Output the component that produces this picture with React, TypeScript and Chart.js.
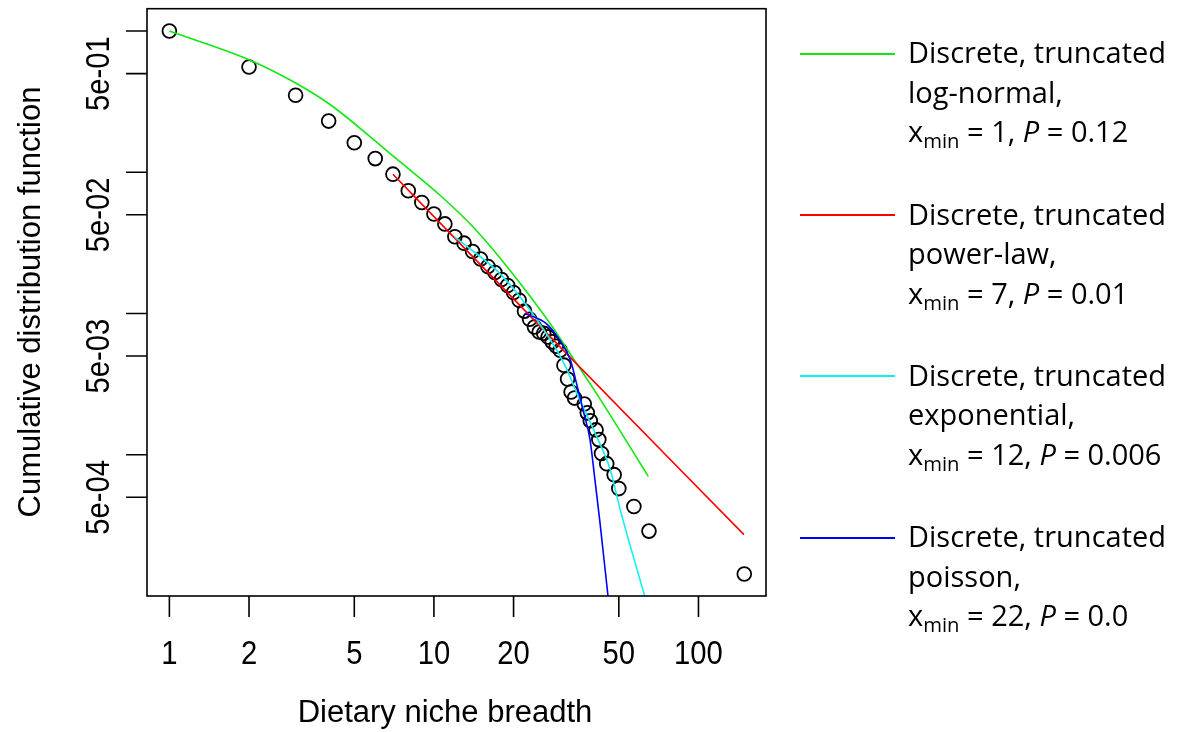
import React, { useEffect, useRef } from 'react';
import { Chart, registerables } from 'chart.js';

Chart.register(...registerables);

// Observed complementary CDF of dietary niche breadth
const breadthX = [1, 2, 3, 4, 5, 6, 7, 8, 9, 10, 11, 12, 13, 14, 15, 16, 17, 18, 19, 20, 21, 22, 23, 24, 25, 26, 27, 28, 29, 30, 31, 32, 33, 34, 37, 38, 39, 41, 42, 43, 45, 48, 50, 57, 65, 149];
const cdfY = [1.0, 0.556, 0.351, 0.2305, 0.162, 0.125, 0.097, 0.074, 0.0611, 0.0507, 0.0431, 0.035, 0.0315, 0.0275, 0.0243, 0.0215, 0.0195, 0.0174, 0.0158, 0.0141, 0.0124, 0.0104, 0.0091, 0.00803, 0.0074, 0.00725, 0.00683, 0.0063, 0.00587, 0.0055, 0.00431, 0.00344, 0.00278, 0.00252, 0.00229, 0.00198, 0.00174, 0.0015, 0.00128, 0.00102, 0.000865, 0.000723, 0.000576, 0.00043, 0.000288, 0.000143];

// Fitted curves
const lognormX = [1, 2, 3, 4.05, 5.9, 7, 10.6, 14.5, 19.4, 27.5, 31.7, 42.3, 64.6];
const lognormY = [1.0, 0.627, 0.429, 0.302, 0.171, 0.1305, 0.0682, 0.0386, 0.0202, 0.0085, 0.00568, 0.00251, 0.000703];
const powerX = [7, 30.8, 148.6];
const powerY = [0.0969, 0.00551, 0.000272];
const expoX = [12, 17.8, 23.1, 30.9, 35.6, 41.2, 46.4, 50.6, 62.6];
const expoY = [0.0347, 0.0191, 0.01054, 0.0045, 0.00244, 0.00135, 0.000783, 0.000409, 0.0001];
const poisX = [22.1, 26.6, 29.9, 32.8, 34.6, 36.6, 38.9, 40.6, 42.3, 45.5];
const poisY = [0.01, 0.00849, 0.00647, 0.00468, 0.0032, 0.00208, 0.00128, 0.000667, 0.000349, 0.0001];

const xTicks = [1, 2, 5, 10, 20, 50, 100];
const xTickLabels = ['1', '2', '5', '10', '20', '50', '100'];
const yTicks = [1, 0.5, 0.1, 0.05, 0.01, 0.005, 0.001, 0.0005];
const yTickLabels = ['', '5e-01', '', '5e-02', '', '5e-03', '', '5e-04'];

const xTitle = 'Dietary niche breadth';
const yTitle = 'Cumulative distribution function';

const fitNames = ['log-normal', 'power-law', 'exponential', 'poisson'];
const fitXmin = ['1', '7', '12', '22'];
const fitP = ['0.12', '0.01', '0.006', '0.0'];
const fitColors = ['#10e810', '#ff0000', '#10f0f0', '#0000ff'];

const W = 1178;
const H = 732;
const TICK_FONT = '34px "Liberation Sans", Arial, sans-serif';
const TITLE_FONT = '31px "Liberation Sans", Arial, sans-serif';

const pairs = (xs: number[], ys: number[]) => xs.map((x, i) => ({ x, y: ys[i] }));

function narrowText(ctx: CanvasRenderingContext2D, text: string, x: number, y: number, rot: number, sx: number) {
  ctx.save();
  ctx.translate(x, y);
  ctx.rotate(rot);
  ctx.scale(sx, 1);
  ctx.fillText(text, 0, 0);
  ctx.restore();
}

const rAxesPlugin = {
  id: 'rAxes',
  afterDraw(chart: any) {
    const { ctx, chartArea: a } = chart;
    const xs = chart.scales.x;
    const ys = chart.scales.y;
    ctx.save();
    ctx.strokeStyle = '#000';
    ctx.fillStyle = '#000';
    ctx.lineWidth = 1.6;
    ctx.strokeRect(a.left, a.top, a.right - a.left, a.bottom - a.top);
    ctx.beginPath();
    xTicks.forEach((v) => {
      const p = xs.getPixelForValue(v);
      ctx.moveTo(p, a.bottom);
      ctx.lineTo(p, a.bottom + 21);
    });
    yTicks.forEach((v) => {
      const p = ys.getPixelForValue(v);
      ctx.moveTo(a.left, p);
      ctx.lineTo(a.left - 21, p);
    });
    ctx.stroke();

    ctx.font = TICK_FONT;
    ctx.textAlign = 'center';
    ctx.textBaseline = 'middle';
    xTicks.forEach((v, i) => {
      narrowText(ctx, xTickLabels[i], xs.getPixelForValue(v), a.bottom + 59, 0, 0.86);
    });
    yTicks.forEach((v, i) => {
      if (!yTickLabels[i]) return;
      narrowText(ctx, yTickLabels[i], a.left - 47, ys.getPixelForValue(v), -Math.PI / 2, 0.86);
    });

    ctx.font = TITLE_FONT;
    ctx.fillText(xTitle, 445, 713);
    narrowText(ctx, yTitle, 31, 302, -Math.PI / 2, 1);
    ctx.restore();
  },
};

function App() {
  const canvasRef = useRef<HTMLCanvasElement | null>(null);

  useEffect(() => {
    const canvas = canvasRef.current;
    if (!canvas) return;
    const lineDs = (label: string, xs: number[], ys: number[], color: string, order: number) => ({
      label,
      data: pairs(xs, ys),
      showLine: true,
      borderColor: color,
      backgroundColor: color,
      borderWidth: 1.6,
      pointRadius: 0,
      cubicInterpolationMode: 'monotone' as const,
      order,
    });
    const chart = new Chart(canvas, {
      type: 'scatter',
      data: {
        datasets: [
          {
            label: 'Observed',
            data: pairs(breadthX, cdfY),
            showLine: false,
            pointStyle: 'circle',
            pointRadius: 6.9,
            pointBorderWidth: 1.8,
            pointBorderColor: '#000',
            pointBackgroundColor: 'rgba(0,0,0,0)',
            order: 10,
          } as any,
          lineDs('log-normal', lognormX, lognormY, fitColors[0], 4),
          lineDs('power-law', powerX, powerY, fitColors[1], 3),
          lineDs('exponential', expoX, expoY, fitColors[2], 2),
          lineDs('poisson', poisX, poisY, fitColors[3], 1),
        ],
      },
      options: {
        animation: false,
        responsive: false,
        devicePixelRatio: 1,
        layout: { padding: { left: 147, top: 7, right: W - 766, bottom: H - 596 } },
        plugins: { legend: { display: false }, tooltip: { enabled: false } },
        scales: {
          x: { type: 'logarithmic', min: 0.823, max: 180, display: false },
          y: { type: 'logarithmic', min: 0.0001, max: 1.44, display: false },
        },
      },
      plugins: [rAxesPlugin],
    });
    return () => chart.destroy();
  }, []);

  const legendFont = '"Open Sans", "Noto Sans", sans-serif';

  return (
    <div style={{ position: 'fixed', left: 0, top: 0, width: W, height: H, background: '#fff', overflow: 'hidden' }}>
      <canvas ref={canvasRef} width={W} height={H} style={{ position: 'absolute', left: 0, top: 0, width: W, height: H }} />
      {fitNames.map((name, i) => {
        const base = 63.3 + 161.3 * i;
        return (
          <React.Fragment key={name}>
            <div style={{ position: 'absolute', left: 800, top: base - 10.5, width: 95, height: 2, background: fitColors[i] }} />
            <div
              style={{
                position: 'absolute',
                left: 908,
                top: base - 31,
                fontFamily: legendFont,
                fontSize: 29,
                lineHeight: '39.5px',
                color: '#000',
                whiteSpace: 'nowrap',
              }}
            >
              <div>Discrete, truncated</div>
              <div>{name},</div>
              <div>
                x<sub style={{ fontSize: '0.7em', verticalAlign: '-0.32em', lineHeight: 0 }}>min</sub> = {fitXmin[i]},{' '}
                <i>P</i> = {fitP[i]}
              </div>
            </div>
          </React.Fragment>
        );
      })}
    </div>
  );
}

export default App;
